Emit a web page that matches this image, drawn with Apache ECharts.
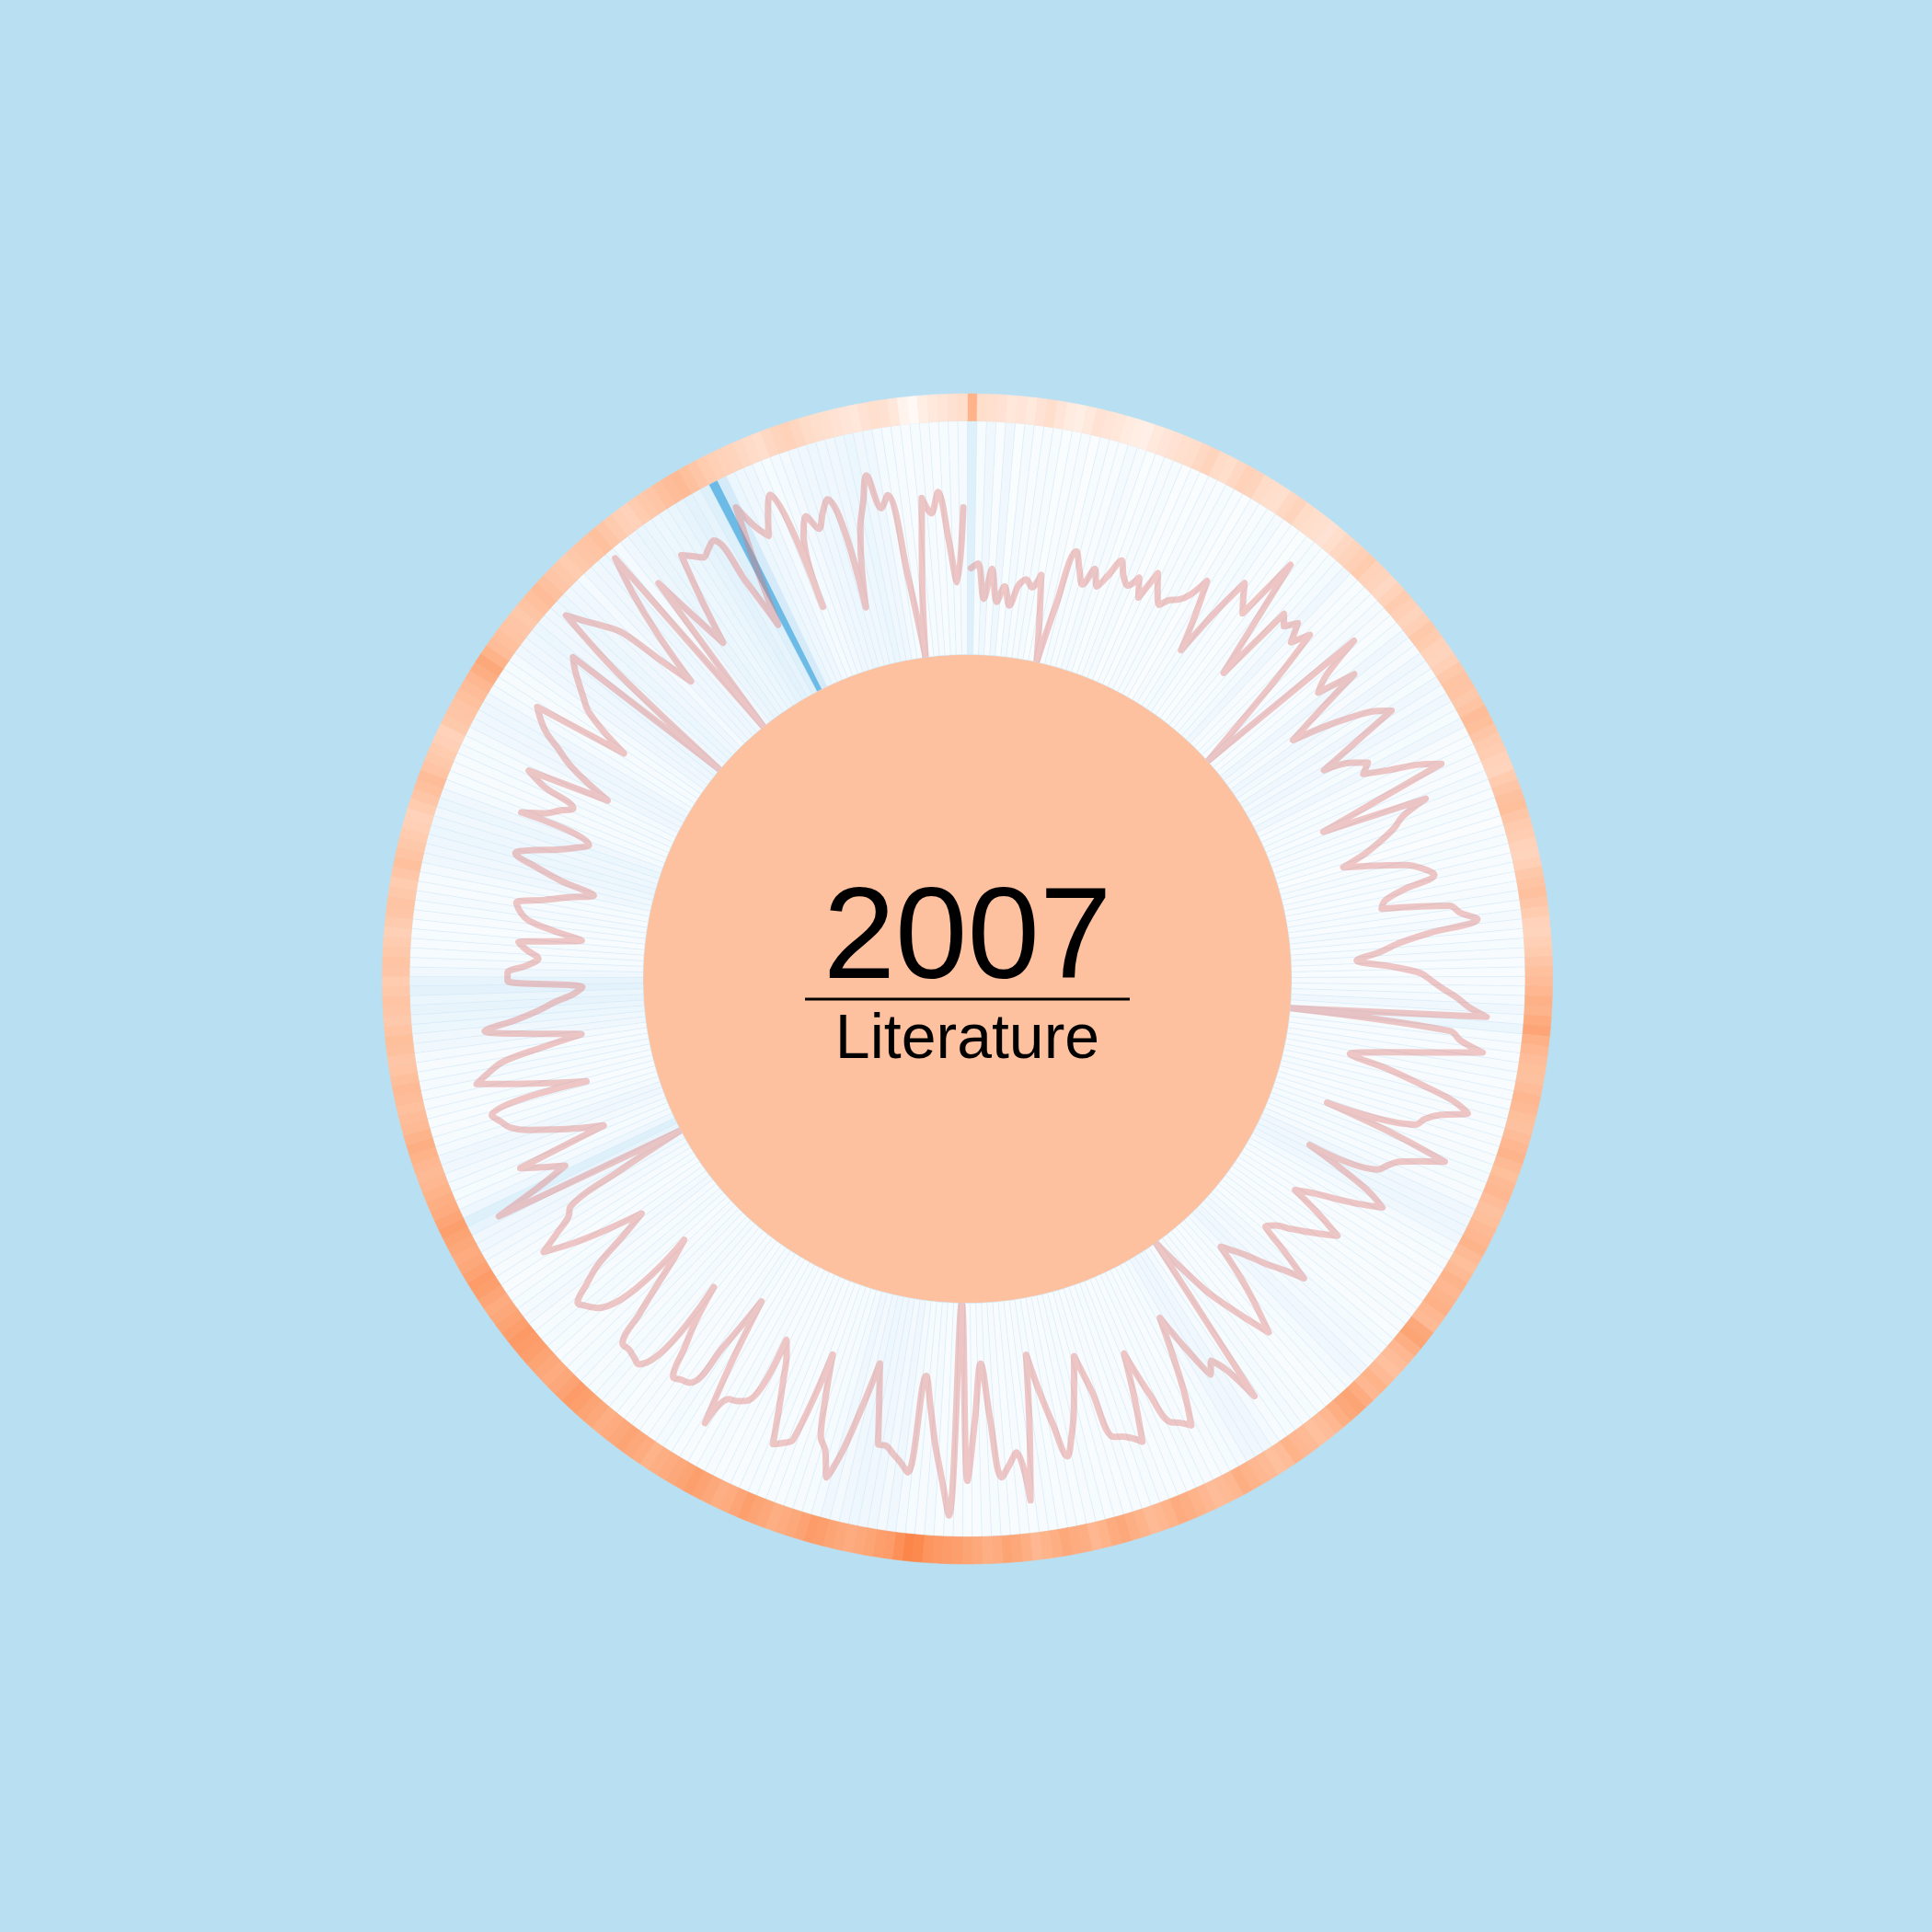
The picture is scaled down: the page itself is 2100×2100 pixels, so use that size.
<!DOCTYPE html>
<html><head><meta charset="utf-8">
<script src="https://cdn.jsdelivr.net/npm/echarts@6/dist/echarts.min.js"></script>
<style>html,body{margin:0;padding:0;background:#b8e0f2}#c{width:2100px;height:2100px}</style>
</head><body><div id="c"></div>
<script>
const yearLabel = '2007';
const topicLabel = 'Literature';

// categories: the days of 2007
const days = [];
(function(){ const d0 = Date.UTC(2007,0,1); for (let i=0;i<365;i++){ const d=new Date(d0+i*86400000); days.push(d.toISOString().slice(0,10)); } })();

// radial line values (0 = inner circle, 100 = outer edge of white band)
const lineValues = [
37,39,24,37,23,30,22,31,34,31, 37,18,0,25,50,43,37,45,38,44,
52,46,43,48,40,53,46,41,45,47, 51,60,45,29,50,68,62,57,86,55,
32,68,64,69,61,69,45,20,0,81, 62,55,72,50,34,48,60,70,76,55,
38,50,56,52,62,75,84,50,26,72, 60,55,48,40,29,42,55,62,66,52,
43,41,70,74,81,60,46,38,28,42, 55,60,65,71,76,84,0,69,74,84,
60,40,28,45,60,75,83,72,66,63, 24,55,80,70,62,58,55,24,40,55,
64,55,45,35,28,42,54,48,42,36, 30,27,40,54,45,38,30,24,19,35,
48,60,50,40,30,15,0,78,62,55, 60,45,28,45,62,75,72,70,55,35,
55,73,70,68,67,45,29,40,52,62, 70,55,40,24,55,86,65,70,75,50,
26,50,76,0,91,75,61,45,32,74, 70,67,64,64,45,30,50,70,83,72,
67,50,32,72,75,77,62,50,40,34, 65,67,68,82,55,25,50,71,72,73,
60,48,32,78,77,76,76,62,48,35, 26,73,76,78,70,61,45,33,50,65,
77,68,60,57,30,0,86,65,51,60, 69,29,40,50,60,67,70,73,30,45,
60,76,70,63,45,28,50,69,55,45, 38,30,26,58,58,50,45,50,54,27,
40,51,55,57,45,35,25,40,52,62, 55,45,38,33,65,55,50,45,60,69,
33,45,55,62,70,75,79,37,50,60, 65,70,75,79,0,60,93,85,78,70,
50,35,60,80,96,0,76,55,39,60, 80,77,74,76,78,55,33,60,86,75,
69,78,85,32,64,71,64,70,75,26, 45,60,70,81,66,71,35,0,35,68,
61,70,50,31,63
];

// intensity of the pale blue day bars (0..100)
const blueValues = [
35,12,20,8,18,6,15,8,10,12, 6,8,10,7,12,9,8,14,10,6,
8,10,12,7,9,6,10,8,12,9, 7,10,8,12,15,9,8,6,10,12,
8,12,15,18,10,8,12,9,14,10, 8,12,18,15,10,20,16,12,18,14,
20,15,12,18,10,8,12,10,8,14, 10,8,12,9,7,10,12,8,10,9,
8,10,12,9,14,10,8,12,10,9, 8,10,12,14,18,15,25,12,10,8,
10,12,8,10,9,12,10,8,11,9, 10,12,14,12,10,15,18,20,22,18,
14,12,10,8,10,9,12,8,10,12, 10,8,12,14,16,15,18,20,15,12,
10,8,9,12,10,14,12,10,15,18, 20,18,15,12,10,8,10,12,9,10,
8,10,12,9,11,8,10,9,12,10, 9,10,8,12,10,9,11,8,10,12,
10,9,8,10,12,9,14,10,12,15, 18,16,20,18,22,20,16,18,14,12,
10,12,9,10,8,12,10,9,11,8, 10,12,9,10,8,12,14,10,9,11,
10,8,12,10,14,12,10,15,12,10, 9,12,14,12,10,16,14,12,10,9,
12,10,14,16,18,20,30,35,22,15, 12,14,16,18,20,15,12,10,9,12,
10,12,14,12,10,15,18,20,25,28, 30,28,32,30,20,15,12,10,12,9,
10,12,14,10,12,15,18,20,22,25, 22,20,25,18,15,12,10,12,14,12,
15,18,20,22,20,15,12,10,12,14, 18,20,22,25,20,18,22,25,20,18,
15,18,20,22,18,15,20,24,28,25, 22,25,28,30,32,30,35,95,40,25,
20,18,15,12,14,16,18,20,22,18, 20,22,25,20,18,15,12,10,8,12,
10,8,12,10,14
];

// intensity of the outer orange ring (0..100)
const ringValues = [
65,30,28,25,20,22,18,25,30,22, 15,12,18,25,22,20,15,12,10,18,
22,25,28,30,35,38,32,30,35,40, 38,32,30,28,35,38,32,30,28,25,
30,35,38,42,45,40,38,35,40,45, 42,38,42,48,45,40,38,42,48,52,
52,48,52,58,56,50,46,44,40,38, 45,50,54,56,50,46,44,40,38,42,
48,52,55,50,45,40,38,42,45,50, 55,58,62,66,64,70,74,66,62,58,
56,54,58,62,60,56,54,58,62,64, 60,56,60,62,58,54,56,60,62,64,
60,56,60,64,62,64,66,62,60,72, 75,68,62,58,55,60,65,62,70,75,
72,68,62,58,55,60,62,65,58,55, 60,62,65,68,62,60,58,62,65,68,
70,65,62,60,65,68,72,70,65,62, 68,70,72,68,65,62,68,72,75,70,
68,72,75,78,80,82,85,92,95,88, 80,78,75,72,70,72,75,78,80,76,
72,70,68,72,75,78,74,70,68,72, 76,78,75,72,70,68,65,70,72,75,
72,70,68,72,75,78,80,76,72,70, 72,75,78,80,82,78,75,72,70,74,
78,80,76,72,70,72,75,78,74,70, 68,65,62,60,62,65,68,64,60,58,
55,58,60,56,52,50,54,56,52,48, 50,52,48,45,50,52,48,45,42,46,
50,52,48,45,50,55,52,48,45,42, 40,45,50,55,58,52,48,45,42,40,
48,50,52,55,58,62,68,72,65,58, 55,52,50,48,52,55,58,54,50,48,
45,48,50,52,55,50,46,42,40,45, 48,50,55,58,60,55,50,45,42,40,
38,35,32,30,35,38,40,36,32,30, 28,25,22,20,25,28,26,20,5,0,
12,18,22,26,30
];

function lerpColor(stops, t){
  t = Math.max(0, Math.min(1, t));
  for (let k=0;k<stops.length-1;k++){
    const a=stops[k], b=stops[k+1];
    if (t<=b[0]){
      const u=(t-a[0])/(b[0]-a[0]);
      const c=[0,1,2].map(j=>Math.round(a[1][j]+(b[1][j]-a[1][j])*u));
      return 'rgb('+c.join(',')+')';
    }
  }
  const l=stops[stops.length-1][1]; return 'rgb('+l.join(',')+')';
}
const blueStops=[[0,[255,255,255]],[0.3,[232,244,252]],[1,[98,182,228]]];
const ringStops=[[0,[255,248,244]],[0.3,[255,222,204]],[0.6,[254,186,148]],[1,[252,126,62]]];

const CX=1051.5, CY=1064, R_IN=352.5, R_MID=606.5, R_OUT=636;

const hiddenAngle = (pi)=>({polarIndex:pi, type:'category', data:days, startAngle:90, clockwise:true, boundaryGap:true,
  axisLine:{show:false}, axisTick:{show:false}, axisLabel:{show:false}, splitLine:{show:false}, splitArea:{show:false}});
const hiddenRadius = (pi,max)=>({polarIndex:pi, type:'value', min:0, max:max,
  axisLine:{show:false}, axisTick:{show:false}, axisLabel:{show:false}, splitLine:{show:false}, splitArea:{show:false}});

const chart = echarts.init(document.getElementById('c'), null, {renderer:'canvas', width:2100, height:2100});
chart.setOption({
  backgroundColor:'#b8e0f2',
  animation:false,
  polar:[{center:[CX,CY], radius:[R_IN,R_MID]},{center:[CX,CY], radius:[R_MID,R_OUT]}],
  angleAxis:[hiddenAngle(0), hiddenAngle(1)],
  radiusAxis:[hiddenRadius(0,100), hiddenRadius(1,1)],
  series:[
    {type:'bar', coordinateSystem:'polar', polarIndex:0, barCategoryGap:'0%', silent:true, z:1,
     data: blueValues.map(v=>({value:100, itemStyle:{color:lerpColor(blueStops, v/100)}})),
     itemStyle:{borderColor:'rgba(214,233,247,0.85)', borderWidth:0.5}},
    {type:'bar', coordinateSystem:'polar', polarIndex:1, barCategoryGap:'0%', silent:true, z:1,
     data: ringValues.map(v=>{const c=lerpColor(ringStops, v/100); return {value:1, itemStyle:{color:c, borderColor:c, borderWidth:0.6}};})},
    {type:'line', coordinateSystem:'polar', polarIndex:0, data:lineValues, smooth:0.35, symbol:'none', silent:true, z:5,
     lineStyle:{width:7, color:'rgba(222,118,112,0.4)', cap:'round', join:'round'}}
  ],
  graphic:[
    {type:'circle', z:0, silent:true, shape:{cx:CX, cy:CY, r:R_IN}, style:{fill:'#fec19f'}},
    {type:'text', z:100, x:CX, y:1024, style:{text:yearLabel, font:'141px "Liberation Sans", Arial, sans-serif', fill:'#000', align:'center', verticalAlign:'middle', textAlign:'center', textVerticalAlign:'middle'}},
    {type:'line', z:100, shape:{x1:875, y1:1086, x2:1228, y2:1086}, style:{stroke:'#000', lineWidth:3}},
    {type:'text', z:100, x:CX, y:1131, style:{text:topicLabel, font:'68px "Liberation Sans", Arial, sans-serif', fill:'#000', align:'center', verticalAlign:'middle', textAlign:'center', textVerticalAlign:'middle'}}
  ]
});
</script>
</body></html>
